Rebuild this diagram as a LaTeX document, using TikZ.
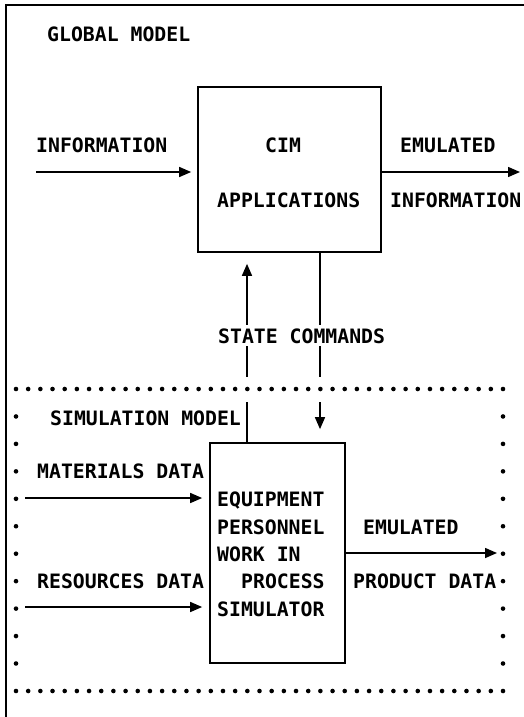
\documentclass[tikz,border=0pt]{standalone}
\usepackage{fontspec}
\setmonofont{DejaVu Sans Mono}
\usetikzlibrary{arrows.meta}
\begin{document}
\begin{tikzpicture}[x=1pt,y=-1pt,
  lbl/.style={anchor=base west, inner sep=0pt,
    font=\ttfamily\bfseries\fontsize{19.8}{20}\selectfont},
  blk/.style={draw, line width=1.7pt, inner sep=0pt},
  arr/.style={line width=1.5pt, -{Triangle[length=12pt,width=10pt]}},
  gap/.style={fill=white, draw=none},
  dotmark/.style={fill=black}]
\useasboundingbox (0,0) rectangle (524,717);

% outer frame of the global model (top and left edges)
\draw[line width=1.9pt] (6,717) -- (6,5) -- (524,5);

% blocks
\node[blk, minimum width=183pt, minimum height=165pt] (cim) at (289.5,169.5) {};
\node[blk, minimum width=135pt, minimum height=220pt] (sim) at (277.5,553) {};

% free ends of the data flows
\coordinate (infoin) at (36,172);
\coordinate (infoout) at (520,172);
\coordinate (matin) at (25,498);
\coordinate (resin) at (25,607);
\coordinate (prodout) at (497,553);
\coordinate (upx) at (247,0);
\coordinate (downx) at (320,0);

% global model flows
\draw[arr, shorten >=6pt] (infoin) -- (infoin -| cim.west);
\draw[arr] (infoout -| cim.east) -- (infoout);

% state and command links between the models
\draw[arr, shorten >=11pt] (sim.north -| upx) -- (cim.south -| upx);
\draw[arr, shorten >=13pt] (cim.south -| downx) -- (sim.north -| downx);

% simulation model flows
\draw[arr, shorten >=7pt] (matin) -- (matin -| sim.west);
\draw[arr, shorten >=7pt] (resin) -- (resin -| sim.west);
\draw[arr] (prodout -| sim.east) -- (prodout);

% breaks in the links where they cross the dotted border
\fill[gap] (243,377) rectangle (251,402);
\fill[gap] (316,377) rectangle (324,402);

% labels
\node[lbl] (tglobal) at (47,42) {GLOBAL MODEL};
\node[lbl] (tinfo) at (36,152) {INFORMATION};
\node[lbl] (tcim) at (265,152) {CIM};
\node[lbl] (tapp) at (217,207) {APPLICATIONS};
\node[lbl] (temu1) at (400,152) {EMULATED};
\node[lbl] (tinfo2) at (390,207) {INFORMATION};
\node[lbl, fill=white, inner ysep=3pt] (tstate) at (218,343) {STATE COMMANDS};
\node[lbl] (tsim) at (50,425) {SIMULATION MODEL};
\node[lbl] (tmat) at (37,478) {MATERIALS DATA};
\node[lbl] (tres) at (37,588) {RESOURCES DATA};
\node[lbl] (teq) at (217,506) {EQUIPMENT};
\node[lbl] (tpers) at (217,534) {PERSONNEL};
\node[lbl] (twork) at (217,561) {WORK IN};
\node[lbl] (tproc) at (241,588) {PROCESS};
\node[lbl] (tsimu) at (217,616) {SIMULATOR};
\node[lbl] (temu2) at (363,534) {EMULATED};
\node[lbl] (tprod) at (353,588) {PRODUCT DATA};

% dotted border of the simulation model
\foreach \i in {0,...,40} {
  \fill[dotmark] (16+\i*12.175,389) circle (2.3pt);
  \fill[dotmark] (16+\i*12.175,691) circle (2.3pt);
}
\foreach \j in {1,...,10} {
  \fill[dotmark] (16,389+\j*27.45) circle (2.3pt);
  \fill[dotmark] (503,389+\j*27.45) circle (2.3pt);
}
\end{tikzpicture}
\end{document}
